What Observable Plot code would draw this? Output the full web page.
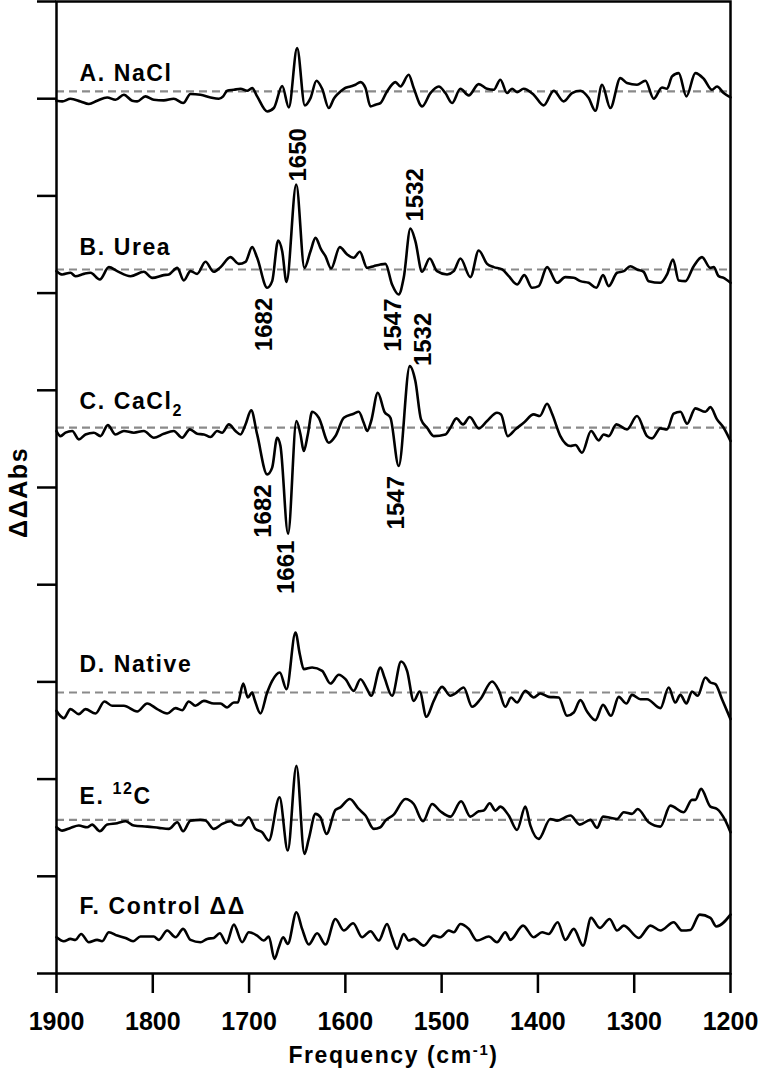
<!DOCTYPE html>
<html><head><meta charset="utf-8">
<script src="https://cdn.jsdelivr.net/npm/d3@7"></script>
<script src="https://cdn.jsdelivr.net/npm/@observablehq/plot@0.6"></script>
<style>
body{margin:0;background:#fff}
svg{display:block}
</style>
</head><body><div id="chart"></div>
<script>
// ---- data (frequency cm-1, ΔΔAbs in units where one y tick = 100) ----
const freqTicks = [1900,1800,1700,1600,1500,1400,1300,1200];
const yTicks = [0,100,200,300,400,500,600,700,800,900,1000];
const names = ["A. NaCl","B. Urea","C. CaCl2","D. Native","E. 12C","F. Control ΔΔ"];
const offsets = [907.5, 724.3, 561.5, 289.1, 158, 37.3];
const hasBaseline = [true,true,true,true,true,false];

const nacl = [[1900,-9.6],[1894,-10.3],[1885.5,-7.5],[1875,-10.3],[1866.4,-13],[1857.8,-9.6],[1847.4,-6.2],[1838.7,-8.6],[1830,-3.4],[1821.4,-9.6],[1816.2,-10.3],[1807.6,-5.1],[1799,-8.6],[1788.6,-9.2],[1778.2,-7.5],[1768.5,-12],[1760.8,-2.7],[1750.5,-3.4],[1740,-6.2],[1731.4,-7.5],[1726.9,-5.1],[1722.8,0.7],[1715.8,1.7],[1708.9,2.7],[1702,0.7],[1696.8,3.4],[1691.6,-5.1],[1681.2,-20.6],[1674.3,-17.1],[1665.6,5.5],[1658.7,-16.4],[1650.1,44.5],[1642.1,-14.4],[1636.2,-6.9],[1630,11],[1624.1,2.7],[1617.2,-17.1],[1612,-7.5],[1608.6,-3.4],[1601.6,2.7],[1594.7,5.1],[1589.5,6.9],[1584.3,9.6],[1579.1,3.4],[1573.9,-15.4],[1568.7,-13.7],[1563.6,-12],[1556.7,0],[1548,9.6],[1542.8,5.1],[1534.2,17.1],[1529,3.4],[1520.3,-15.4],[1511.7,-1.7],[1503,5.1],[1496.1,-1.7],[1489.2,-12],[1480.5,2.7],[1471.9,-4.1],[1461.5,7.5],[1452.8,2.7],[1445.9,1.7],[1439,12],[1432.1,-1.7],[1426.9,2.7],[1421.7,-0.7],[1414.8,2.7],[1404.4,-3.4],[1394,-14.4],[1383.6,0.7],[1373.2,-10.3],[1364.6,-1.7],[1355.9,0.7],[1347.3,-6.9],[1340.3,-19.9],[1333.4,6.9],[1324.8,-17.1],[1314.4,13.7],[1307.5,8.6],[1297.1,6.9],[1288.4,11],[1279.8,-7.5],[1271.1,4.1],[1265.9,2.7],[1260.7,15.4],[1253.8,18.8],[1245.8,-5.1],[1236.5,18.8],[1227.8,13],[1219.2,1.7],[1214,5.1],[1207.1,-1.7],[1200,-6.2]];

const urea = [[1900,-1.7],[1894,-5.1],[1885.5,-3.4],[1880.3,-6.9],[1871.6,-4.5],[1864.7,-3.4],[1855,-10.3],[1845.6,2.4],[1837,-1.7],[1823.1,-6.9],[1809.3,-2.4],[1800.6,-8.6],[1788.6,-5.8],[1783.3,-5.1],[1774.6,1.7],[1767.8,-11.3],[1760.8,-1.7],[1753.9,-4.5],[1745.3,7.9],[1736.6,-2.4],[1729.7,2.4],[1719.3,12.7],[1710.7,5.8],[1703.7,7.9],[1696.8,23],[1691.6,12],[1681.2,-18.8],[1676,-12],[1669.8,29.8],[1665.6,18.8],[1661.1,-12.7],[1651,87.4],[1642.5,1.7],[1636.2,18.8],[1631,32.5],[1625.2,20.6],[1620.7,13.7],[1614.8,1],[1605.8,23],[1598.1,15.4],[1591.3,12],[1585,18.2],[1577.4,1.7],[1570.5,3.4],[1563.6,5.1],[1558.4,5.8],[1551.5,-15.4],[1544.6,-25.7],[1539.4,-8.6],[1532.4,42.1],[1527.3,29.1],[1520.3,-2.4],[1512.4,11.3],[1504.8,-1.7],[1494.4,-5.1],[1487.4,-1.7],[1480.5,11.3],[1470.1,-7.9],[1461.5,19.5],[1452.8,5.8],[1445.9,2.4],[1437.2,0],[1430.3,-6.9],[1421.7,-15.4],[1414.1,-5.8],[1406.1,-18.8],[1399.2,-17.1],[1390.5,2.4],[1380.1,-13.7],[1371.5,-7.9],[1362.8,-8.6],[1355.9,-12],[1347.3,-13.7],[1339.3,-18.8],[1332.4,-5.8],[1326.5,-17.1],[1317.8,-3.4],[1310.9,-1.7],[1304,3.4],[1297.1,0],[1290.2,-2.4],[1285,-12],[1272.8,-13.7],[1265.9,-5.1],[1259.7,10.3],[1253.8,-11.3],[1246.9,-12],[1238.2,3.4],[1229.6,12.7],[1221,1.7],[1217.5,2.4],[1212.3,-6.9],[1207.1,-8.6],[1200,-13.7]];

const cacl2 = [[1900,-3.4],[1895.8,-8.6],[1890.7,-5.1],[1883.7,-3.4],[1876.8,-12],[1869.9,-6.9],[1861.2,-5.1],[1854.3,-8.6],[1846.7,2.7],[1838.7,-6.9],[1830,-3.4],[1819.7,-5.1],[1809.3,-3.4],[1798.9,-10.3],[1788.6,-6.2],[1778.2,-3.4],[1769.5,-10.3],[1761.5,-1.7],[1753.9,-6.2],[1747,-6.9],[1740,-9.6],[1733.1,-3.4],[1728,-5.1],[1721,3.4],[1714.1,-3.4],[1708.9,-6.9],[1703.7,3.4],[1697.8,17.8],[1691.6,-6.9],[1681.2,-48],[1676,-41],[1670.8,-10.3],[1667.4,-18.8],[1659.5,-109],[1650.8,6.9],[1646.6,-6.9],[1643.2,-24],[1639,-6.9],[1634.5,16.4],[1627.6,10.3],[1617.2,-15.4],[1610.3,-8.6],[1601.6,10.3],[1591.3,14.4],[1586.1,16.4],[1580.9,5.1],[1577.4,-3.4],[1573.2,6.9],[1566.3,36],[1559.4,16.4],[1553.2,10.3],[1544.6,-39.4],[1533.1,63.4],[1527.3,48],[1521.4,8.6],[1515.1,0],[1508.2,-8.6],[1496.1,-6.9],[1490.9,0],[1484.7,9.6],[1477.8,3.4],[1470.8,11],[1461.5,-0.7],[1452.8,6.9],[1442.5,15.4],[1438.3,13.7],[1431.4,-8.6],[1423.4,-1.7],[1414.8,5.1],[1404.4,13.7],[1398.1,12],[1390.5,24.7],[1385.3,14.4],[1376.7,-8.6],[1366.3,-18.8],[1361.1,-17.8],[1354.2,-25.7],[1344.8,-3.4],[1336.9,-13],[1331.7,-6.9],[1326.5,-8.6],[1318.5,3.4],[1307.5,-1.7],[1297.1,12],[1286.7,-8.6],[1281.5,-11],[1272.8,-0.7],[1265.9,-1.7],[1259,14.4],[1252,16.4],[1245.1,4.1],[1236.5,19.9],[1226.1,16.4],[1220.9,21.2],[1214,8.6],[1207.1,0],[1200,-13.7]];

const native = [[1900,-18.8],[1897.6,-22.3],[1892.4,-26.4],[1885.5,-17.1],[1876.8,-22.3],[1869.9,-17.1],[1859.5,-21.6],[1850.2,-9.2],[1842.2,-13.7],[1830,-13.7],[1816.2,-19.5],[1805.8,-11.3],[1795.4,-17.1],[1785,-21.6],[1776.4,-16.1],[1769.5,-18.2],[1762.6,-9.2],[1755.7,-13.7],[1747,-8.6],[1736.6,-11.3],[1729.7,-11.3],[1722.8,-15.4],[1715.8,-10.3],[1711.7,-10.3],[1706.1,9.2],[1701.3,-5.1],[1696.8,0],[1694.4,-6.9],[1688.2,-21.6],[1681.2,0],[1676,12],[1668.1,20.6],[1661.1,3.4],[1651.8,61.7],[1647.3,39.4],[1643.2,24],[1634.5,25.7],[1624.1,22.3],[1615.5,9.2],[1606.8,18.2],[1599.9,13.7],[1591.3,1.7],[1584.3,13.7],[1577.4,3.4],[1573.2,-3.4],[1563.5,25.7],[1559.4,15.4],[1551.5,-3.4],[1542.1,31.9],[1535.9,22.3],[1529,-8.6],[1522.8,1],[1515.8,-25],[1508.2,-8.6],[1499.6,5.8],[1490.9,-3.4],[1485.7,-1],[1477.1,5.1],[1468.4,-14.7],[1459.8,-6.9],[1447.6,11.3],[1440.7,2.4],[1433.8,-14.7],[1427.9,-5.1],[1421.7,-10.3],[1413.1,1.7],[1404.4,-5.1],[1397.5,-1],[1388.8,-4.5],[1378.4,-5.1],[1369.8,-24],[1362.8,-20.6],[1355.9,-7.9],[1349,-19.5],[1340.3,-28.4],[1332.4,-12.7],[1324.1,-24],[1316.1,-4.5],[1308.1,-11.3],[1302.3,-2.4],[1293.6,-6.9],[1286.7,-6.9],[1272.8,-16.1],[1264.2,5.1],[1257.3,-10.3],[1252.1,-2.4],[1245.8,-11.3],[1240,1],[1234.1,-3.4],[1226.1,15.4],[1220.9,10.3],[1215.7,8.6],[1208.8,-6.9],[1200,-27.4]];

const c12 = [[1900,-7.5],[1894,-11],[1885.5,-8.2],[1876.8,-5.8],[1868.2,-7.5],[1863,-4.8],[1855,-11.6],[1847.4,-4.8],[1837,-3.4],[1828.3,-1.4],[1819.7,-5.8],[1805.8,-6.9],[1793.7,-8.2],[1783.3,-9.2],[1774.6,-2.4],[1768.5,-11.6],[1760.8,-0.7],[1750.5,0],[1745.3,-0.7],[1736.6,-9.2],[1727.9,-4.1],[1719.3,-1.4],[1714.1,-4.8],[1708.9,-5.8],[1700.3,2.7],[1693.4,-9.2],[1686.4,-12.7],[1679.5,-21.2],[1668.4,23.3],[1659.8,-31.5],[1650.8,55.8],[1642.5,-35],[1638,-19.5],[1631,6.2],[1625.9,2.7],[1619.6,-14.4],[1610.3,10.3],[1605.1,13],[1595.4,21.6],[1586.1,11.3],[1579.1,4.5],[1570.5,-9.2],[1563.6,-7.5],[1558.4,-0.7],[1549.8,5.5],[1537.6,21.6],[1529,16.4],[1519.3,-1.4],[1509.9,16.4],[1501.3,8.9],[1490.9,3.4],[1479.8,19.2],[1470.1,3.4],[1461.5,8.9],[1456.3,9.6],[1450.1,17.1],[1444.2,9.6],[1439,13.7],[1430.3,4.5],[1421.7,-10.3],[1413.1,13.7],[1407.8,-5.8],[1399.2,-19.5],[1387.1,1],[1380.1,-0.7],[1366.3,4.5],[1356.6,-4.8],[1345.5,0],[1338.6,-8.2],[1332.4,3.4],[1324.8,2.1],[1317.8,1],[1310.9,7.9],[1302.3,6.2],[1296.4,11.3],[1285,-2.4],[1272.8,-6.9],[1262.5,14.7],[1248.6,7.9],[1240,20.6],[1236.5,20.6],[1230.6,31.9],[1220.9,13.7],[1214,11.3],[1205.3,-0.7],[1200,-12.7]];

const control = [[1900,0],[1892.4,-4.1],[1885.5,-1.7],[1880.3,-2.7],[1874.4,3.4],[1866.4,-5.1],[1857.8,-2.7],[1852.6,-4.1],[1845.6,5.1],[1837,1.7],[1828.3,-0.7],[1820.4,-4.1],[1812.8,0.7],[1799,0.7],[1793.7,-2.7],[1785,6.9],[1776.4,0],[1768.5,8.6],[1760.8,-2.7],[1750.5,-5.1],[1743.5,-1.7],[1736.6,-0.7],[1730.4,4.1],[1723.5,-6.2],[1715.8,13],[1707.2,-5.1],[1700.3,5.1],[1691.6,1.7],[1684.8,-3.4],[1679.5,0.7],[1673.6,-22.3],[1669.1,-10.3],[1664.6,0],[1659.8,-6.9],[1650.8,25.7],[1644.9,8.6],[1638,-7.5],[1629.3,4.1],[1620.7,-7.5],[1610.3,18.8],[1601.6,6.9],[1591.9,14.4],[1582.6,0],[1573.9,6.2],[1565.3,-3.4],[1556.7,13.7],[1551.5,0],[1546.3,-12],[1539.4,3.4],[1534.2,-3.4],[1529,-1.7],[1518.6,-8.6],[1508.2,1.7],[1501.3,0],[1492.6,6.9],[1487.4,5.1],[1480.5,13.7],[1471.9,8.6],[1463.2,-3.4],[1451.1,0.7],[1442.5,-5.1],[1433.8,5.1],[1428.6,-2.7],[1415.5,12],[1404.4,0],[1395.7,5.1],[1388.8,3.4],[1379.5,15.4],[1371.5,-2.7],[1362.8,8.6],[1353.1,-8.6],[1344.8,19.9],[1335.8,9.6],[1325.5,18.8],[1317.8,6.9],[1310.9,12],[1295.3,-0.7],[1283.2,12],[1272.8,6.9],[1259,15.4],[1250.4,6.9],[1241.7,7.5],[1232,23.3],[1220.9,19.9],[1214.7,11],[1200,23.3]];

const traces = [nacl, urea, cacl2, native, c12, control];

// peak annotations
const annText  = ["1650","1532","1682","1547","1532","1547","1682","1661"];
const annFreq  = [1650, 1532, 1682, 1547, 1532, 1547, 1682, 1661];
const annTrace = [1, 1, 1, 1, 2, 2, 2, 2];
const annSide  = ["up","up","down","down","up","down","down","down"];

// ---- layout (pixels) ----
const W = 760, H = 1076;
const mL = 56, mR = 30, mT = 1, mB = 103;
const pxPerUnit = (H - mT - mB) / 1000;
const pxPerCm = (W - mL - mR) / 700;
const labelLiftPx = [10.5, 14.5, 18.5, 20.5, 15.5, 23];
const annDxPx  = [1, 4, -2, -3, 12, 0, -3, 0];
const annGapPx = [3, 7, 10, 4, 0, 10, 10, 7];

function extreme(tr, f, side) {
  const near = tr.filter(d => Math.abs(d[0] - f) <= 6);
  return side === "up" ? d3.max(near, d => d[1]) : d3.min(near, d => d[1]);
}
const ann = annText.map((t, i) => {
  const ti = annTrace[i];
  const ext = extreme(traces[ti], annFreq[i], annSide[i]);
  const gap = annGapPx[i] / pxPerUnit;
  return {
    text: t,
    side: annSide[i],
    x: annFreq[i] - annDxPx[i] / pxPerCm,
    y: offsets[ti] + ext + (annSide[i] === "up" ? gap : -gap)
  };
});

const font = "'Liberation Sans', Arial, Helvetica, sans-serif";
const yTitle = "ΔΔAbs";
const xTitle = "Frequency (cm-1)";

const marks = [
  Plot.ruleY(offsets.filter((_, i) => hasBaseline[i]), {stroke: "#8a8a8a", strokeWidth: 2.2, strokeDasharray: "8,5"}),
  ...traces.map((tr, i) => Plot.line(tr, {
    x: d => d[0], y: d => offsets[i] + d[1],
    stroke: "black", strokeWidth: 2.6, curve: "monotone-x"
  })),
  Plot.frame({stroke: "black", strokeWidth: 2.5}),
  Plot.axisY({ticks: yTicks, tickSize: 19, tickFormat: () => "", strokeWidth: 2.5, label: null}),
  Plot.axisX({ticks: freqTicks, tickSize: 20, tickPadding: 19, fontSize: 25, fontWeight: "bold", strokeWidth: 2.5, label: null, tickFormat: d => String(d)}),
  Plot.text(names, {
    x: () => 1900 - 23 / pxPerCm,
    y: (d, i) => offsets[i] + labelLiftPx[i] / pxPerUnit,
    text: d => d, textAnchor: "start", lineAnchor: "bottom",
    fontSize: 23, fontWeight: "bold", fill: "black"
  }),
  Plot.text(ann.filter(d => d.side === "up"), {
    x: "x", y: "y", text: "text", rotate: -90, textAnchor: "start", lineAnchor: "middle",
    fontSize: 24, fontWeight: "bold", fill: "black"
  }),
  Plot.text(ann.filter(d => d.side === "down"), {
    x: "x", y: "y", text: "text", rotate: -90, textAnchor: "end", lineAnchor: "middle",
    fontSize: 24, fontWeight: "bold", fill: "black"
  }),
  Plot.text([yTitle], {x: () => 1900, y: () => 495, dx: -38, rotate: -90, textAnchor: "middle", lineAnchor: "middle", fontSize: 25, fontWeight: "bold", fill: "black"}),
  Plot.text([xTitle], {frameAnchor: "bottom", dy: 89, fontSize: 23, fontWeight: "bold", fill: "black"})
];

const chart = Plot.plot({
  width: W, height: H,
  marginLeft: mL, marginRight: mR, marginTop: mT, marginBottom: mB,
  x: {domain: [1900, 1200]},
  y: {domain: [0, 1000]},
  style: {fontFamily: font, fontWeight: "bold", background: "white", color: "black"},
  marks
});

// letter spacing + sub/superscripts
const spaced = new Set([...names, yTitle, xTitle]);
d3.select(chart).selectAll("text").each(function () {
  const t = this.textContent;
  const s = d3.select(this);
  if (spaced.has(t)) s.attr("letter-spacing", "1.6px");
  if (t === "C. CaCl2") {
    s.text("C. CaCl");
    s.append("tspan").attr("font-size", 16).attr("dy", 7).text("2");
  } else if (t === "E. 12C") {
    s.text("E. ");
    s.append("tspan").attr("font-size", 16).attr("dy", -10).text("12");
    s.append("tspan").attr("dy", 10).text("C");
  } else if (t === xTitle) {
    s.text("Frequency (cm");
    s.append("tspan").attr("font-size", 15).attr("dy", -8).text("-1");
    s.append("tspan").attr("dy", 8).text(")");
  }
});

document.getElementById("chart").appendChild(chart);
</script>
</body></html>
